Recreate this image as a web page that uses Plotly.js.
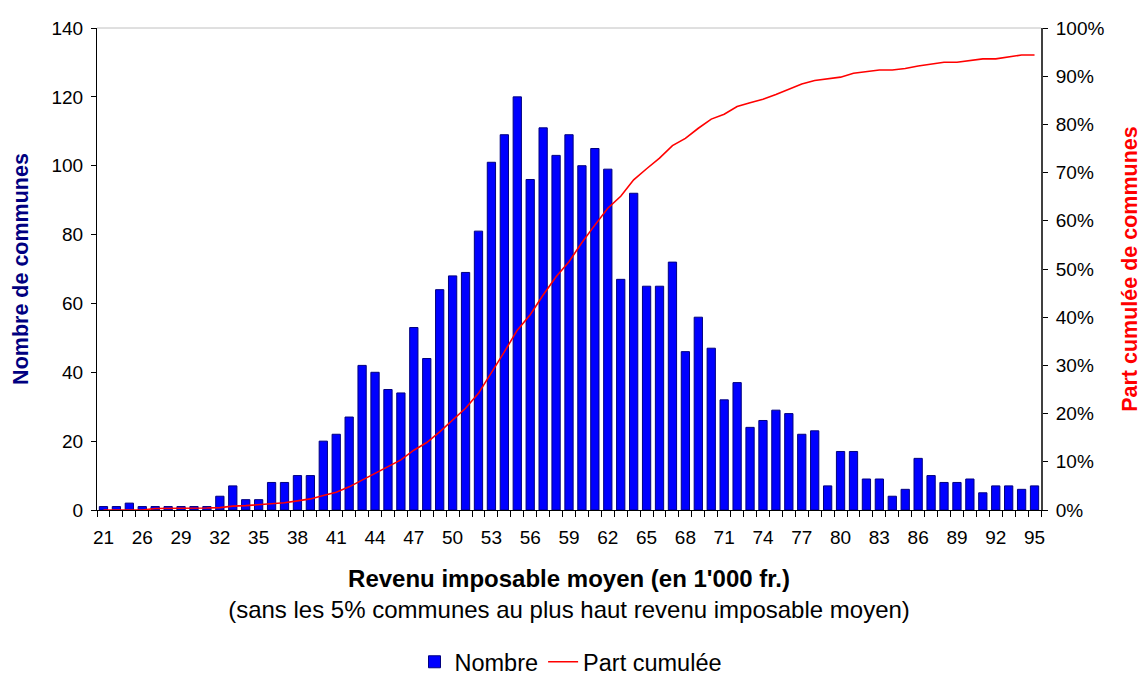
<!DOCTYPE html>
<html>
<head>
<meta charset="utf-8">
<script src="https://cdn.plot.ly/plotly-3.0.1.min.js"></script>
<style>
  html, body { margin: 0; padding: 0; background: #ffffff; }
  #chart { width: 1142px; height: 684px; }
</style>
</head>
<body>
<div id="chart"></div>
<script>
// Revenu imposable moyen (en 1'000 fr.) - categories
const categories = ["21","24","25","26","27","28","29","30","31","32","33","34","35","36","37","38","39","40",
  "41","42","43","44","45","46","47","48","49","50","51","52","53","54","55","56","57","58","59","60",
  "61","62","63","64","65","66","67","68","69","70","71","72","73","74","75","76","77","78","79","80",
  "81","82","83","84","85","86","87","88","89","90","91","92","93","94","95"];

// Nombre de communes
const nombre = [1,1,2,1,1,1,1,1,1,4,7,3,3,8,8,10,10,20,
  22,27,42,40,35,34,53,44,64,68,69,81,101,109,120,96,111,103,109,100,
  105,99,67,92,65,65,72,46,56,47,32,37,24,26,29,28,22,23,7,17,
  17,9,9,4,6,15,10,8,8,9,5,7,7,6,7];

// Part cumulée (fraction)
const partCumulee = [0.000,0.000,0.000,0.000,0.003,0.003,0.004,0.004,0.004,0.005,0.008,0.009,0.011,0.012,0.015,0.019,0.023,0.030,
  0.037,0.048,0.062,0.075,0.090,0.104,0.124,0.140,0.162,0.187,0.211,0.242,0.284,0.328,0.373,0.405,0.446,0.484,0.515,0.555,
  0.591,0.626,0.651,0.685,0.708,0.730,0.756,0.771,0.792,0.811,0.821,0.837,0.845,0.852,0.862,0.873,0.884,0.891,0.894,0.898,
  0.906,0.910,0.913,0.913,0.916,0.921,0.925,0.929,0.929,0.932,0.936,0.936,0.940,0.944,0.944];

// Show a label on every third category
const tickLabels = categories.map((c, i) => (i % 3 === 0 ? c : ""));

const FONT = "Arial, 'Liberation Sans', sans-serif";

const traces = [
  {
    type: "bar",
    name: "Nombre",
    x: categories,
    y: nombre,
    marker: { color: "#0000FF", line: { color: "#000080", width: 1 } },
    hoverinfo: "x+y"
  },
  {
    type: "scatter",
    mode: "lines",
    name: "Part cumulée",
    x: categories,
    y: partCumulee,
    yaxis: "y2",
    line: { color: "#FF0000", width: 1.6 },
    hoverinfo: "x+y"
  }
];

const layout = {
  width: 1142,
  height: 684,
  margin: { l: 97, r: 101, t: 28, b: 174 },
  paper_bgcolor: "#ffffff",
  plot_bgcolor: "#ffffff",
  font: { family: FONT, size: 19, color: "#000000" },
  bargap: 0.36,
  showlegend: true,
  legend: {
    orientation: "h",
    xref: "container",
    yref: "container",
    x: 0.5, xanchor: "center",
    y: -0.032, yanchor: "bottom",
    font: { family: FONT, size: 23.5, color: "#000000" },
    traceorder: "normal"
  },
  xaxis: {
    type: "category",
    tickmode: "array",
    tickvals: categories,
    ticktext: tickLabels,
    tickson: "boundaries",
    tickangle: 0,
    ticks: "outside",
    ticklen: 6,
    tickcolor: "#000000",
    ticklabelstandoff: 10,
    showline: true,
    linecolor: "#000000",
    linewidth: 1,
    showgrid: false,
    zeroline: false,
    tickfont: { family: FONT, size: 19, color: "#000000" },
    title: {
      text: "<b>Revenu imposable moyen (en 1'000 fr.)</b><br>(sans les 5% communes au plus haut revenu imposable moyen)",
      font: { family: FONT, size: 24, color: "#000000" },
      standoff: 23
    },
    automargin: false,
    fixedrange: true
  },
  yaxis: {
    range: [0, 140],
    dtick: 20,
    ticks: "outside",
    ticklen: 5,
    tickcolor: "#000000",
    ticklabelstandoff: 4,
    showline: true,
    linecolor: "#000000",
    linewidth: 1,
    showgrid: false,
    zeroline: false,
    tickfont: { family: FONT, size: 19, color: "#000000" },
    title: {
      text: "<b>Nombre de communes</b>",
      font: { family: FONT, size: 21.5, color: "#000080" },
      standoff: 16
    },
    automargin: false,
    fixedrange: true
  },
  yaxis2: {
    overlaying: "y",
    side: "right",
    range: [0, 1],
    dtick: 0.1,
    tickformat: ".0%",
    ticks: "outside",
    ticklen: 5,
    tickcolor: "#000000",
    ticklabelstandoff: 4,
    showline: true,
    linecolor: "#404040",
    linewidth: 2,
    showgrid: false,
    zeroline: false,
    tickfont: { family: FONT, size: 19, color: "#000000" },
    title: {
      text: "<b>Part cumulée de communes</b>",
      font: { family: FONT, size: 21.5, color: "#FF0000" },
      standoff: 18
    },
    automargin: false,
    fixedrange: true
  },
  shapes: [
    { type: "line", xref: "paper", yref: "paper", x0: 0, x1: 1, y0: 1, y1: 1,
      line: { color: "#C0C0C0", width: 1 } }
  ]
};

Plotly.newPlot("chart", traces, layout, { displayModeBar: false, staticPlot: true });
</script>
</body>
</html>
